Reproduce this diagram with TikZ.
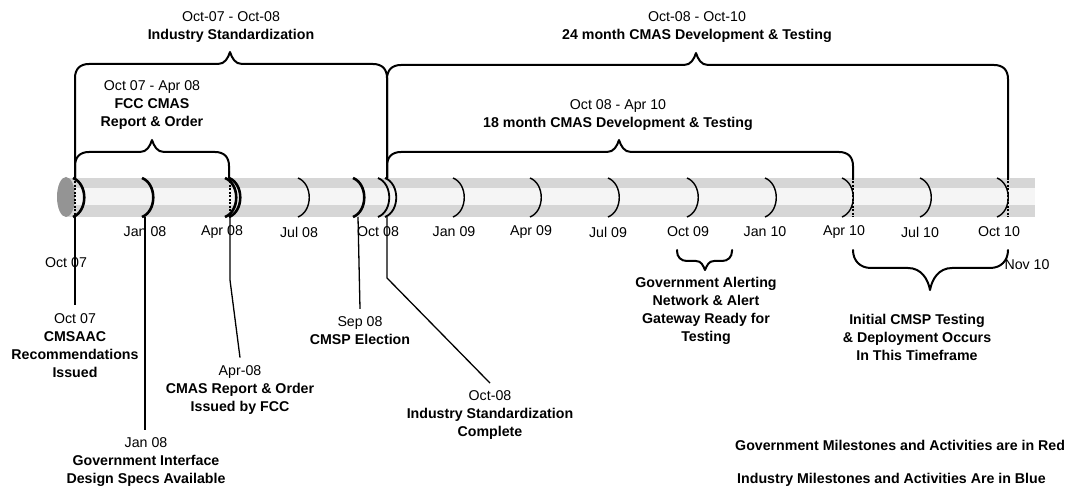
\documentclass[tikz,border=0pt]{standalone}
\usepackage{fontspec}
\setmainfont{Liberation Sans}
% horizontal brace, peak pointing up: xl, xr, y of the bar, end y left, end y right, x of peak
\newcommand\upbrace[6]{%
  \draw[brace] (#1,#4) -- (#1,#3+14) .. controls (#1,#3+5) and (#1+5,#3) .. (#1+14,#3)
    -- (#6-12,#3) .. controls (#6-5,#3) and (#6-2,#3-6) .. (#6,#3-12)
    .. controls (#6+2,#3-6) and (#6+5,#3) .. (#6+12,#3)
    -- (#2-14,#3) .. controls (#2-5,#3) and (#2,#3+5) .. (#2,#3+14) -- (#2,#5);}
% horizontal brace, peak pointing down: xl, xr, y of the bar, end y, x of peak, corner radius, depth
\newcommand\downbrace[7]{%
  \draw[brace] (#1,#4) -- (#1,#3-#6) .. controls (#1,#3-#6*0.4) and (#1+#6*0.4,#3) .. (#1+#6,#3)
    -- (#5-#7,#3) .. controls (#5-#7*0.4,#3) and (#5-2,#3+#7*0.5) .. (#5,#3+#7)
    .. controls (#5+2,#3+#7*0.5) and (#5+#7*0.4,#3) .. (#5+#7,#3)
    -- (#2-#6,#3) .. controls (#2-#6*0.4,#3) and (#2,#3-#6*0.4) .. (#2,#3-#6) -- (#2,#4);}
\begin{document}
\begin{tikzpicture}[x=1pt,y=-1pt,
  every node/.style={inner sep=0pt, font=\fontsize{14.2}{18}\selectfont},
  lbl/.style={align=center},
  ms/.style={align=center, outer sep=8pt},
  brace/.style={line width=2pt, line cap=round, line join=round},
  conn/.style={line width=1.3pt},
  qthin/.style={line width=1.4pt},
  qbold/.style={line width=2.6pt},
  inbar/.style={line width=1.4pt, dash pattern=on 2pt off 1.5pt},
]
\fill[white] (0,0) rectangle (1074,489);
\useasboundingbox (0,0) rectangle (1074,489);

% timeline cylinder
\fill[black!16] (66,178) rectangle (1035,188);
\fill[black!4] (66,188) rectangle (1035,205);
\fill[black!16] (66,205) rectangle (1035,217);
\fill[black!42] (66,197) ellipse [x radius=9pt, y radius=20pt];

% quarter marks
\foreach \x in {298,453,530,608,687,765,842,920,997}
  \draw[qthin] (\x,178) .. controls (\x+15,184) and (\x+15,211) .. (\x,217);
\foreach \x in {378,385}
  \draw[qthin,line width=1.8pt] (\x,178) .. controls (\x+15,184) and (\x+15,211) .. (\x,217);
\foreach \x in {73,142,225,229,353}
  \draw[qbold] (\x,178) .. controls (\x+15,184) and (\x+15,211) .. (\x,217);
\foreach \x in {75,230,853,1008}
  \draw[inbar] (\x,178) -- (\x,217);

% quarter labels
\foreach \x/\t/\n in {145/Jan 08/a,222/Apr 08/b,299/Jul 08/c,378/Oct 08/d,454/Jan 09/e,
    531/Apr 09/f,608/Jul 09/g,688/Oct 09/h,765/Jan 10/i,844/Apr 10/j,920/Jul 10/k,999/Oct 10/l}
  \node (q\n) at (\x,232) {\t};
\node (qOct07) at (66,263) {Oct 07};
\node (qNov10) at (1027,265) {Nov 10};

% spans above the timeline
\upbrace{75}{229}{152}{178}{178}{152}
\upbrace{75}{387}{64}{178}{178}{230}
\upbrace{387}{1008}{65}{178}{178}{696}
\upbrace{387}{853}{152}{178}{178}{619}

\node[lbl] (spanInd) at (231,27.5) {Oct-07 - Oct-08\\\textbf{Industry Standardization}};
\node[lbl] (spanFCC) at (152,105) {Oct 07 - Apr 08\\\textbf{FCC CMAS}\\\textbf{Report \& Order}};
\node[lbl] (span24) at (697,27.5) {Oct-08 - Oct-10\\\textbf{24 month CMAS Development \& Testing}};
\node[lbl] (span18) at (618,115) {Oct 08 - Apr 10\\\textbf{18 month CMAS Development \& Testing}};

% spans below the timeline
\downbrace{677}{732}{261}{250}{705}{10}{9}
\downbrace{853}{1008}{268}{250}{930}{18}{22}
\node[lbl] (govNet) at (706,311) {\textbf{Government Alerting}\\\textbf{Network \& Alert}\\\textbf{Gateway Ready for}\\\textbf{Testing}};
\node[lbl] (cmspTest) at (917,337) {\textbf{Initial CMSP Testing}\\\textbf{\& Deployment Occurs}\\\textbf{In This Timeframe}};

% milestones
\coordinate (t07) at (75,217);
\coordinate (tJan08) at (145,217);
\coordinate (tApr08) at (230,217);
\coordinate (tSep08) at (358,217);
\coordinate (tOct08) at (387,217);

\node[ms] (msOct07) at (75,345.5) {Oct 07\\\textbf{CMSAAC}\\\textbf{Recommendations}\\\textbf{Issued}};
\node[ms] (msJan08) at (146,462) {Jan 08\\\textbf{Government Interface}\\\textbf{Design Specs Available}};
\node[ms] (msApr08) at (240,390) {Apr-08\\\textbf{CMAS Report \& Order}\\\textbf{Issued by FCC}};
\node[ms] (msSep08) at (360,331) {Sep 08\\\textbf{CMSP Election}};
\node[ms] (msOct08) at (490,415.5) {Oct-08\\\textbf{Industry Standardization}\\\textbf{Complete}};

\draw[conn] (t07) -- (msOct07.north);
\draw[conn] (tJan08) -- (tJan08 |- msJan08.north);
\draw[conn] (tApr08) -- ++(0,63) -- (msApr08.north);
\draw[conn] (tSep08) -- (msSep08.north);
\draw[conn] (tOct08) -- ++(0,61) -- (msOct08.north);

% legend
\node[anchor=west] (legGov) at (735,445) {\textbf{Government Milestones and Activities are in Red}};
\node[anchor=west] (legInd) at (737,480) {\textbf{Industry Milestones and Activities Are in Blue}};
\end{tikzpicture}
\end{document}
